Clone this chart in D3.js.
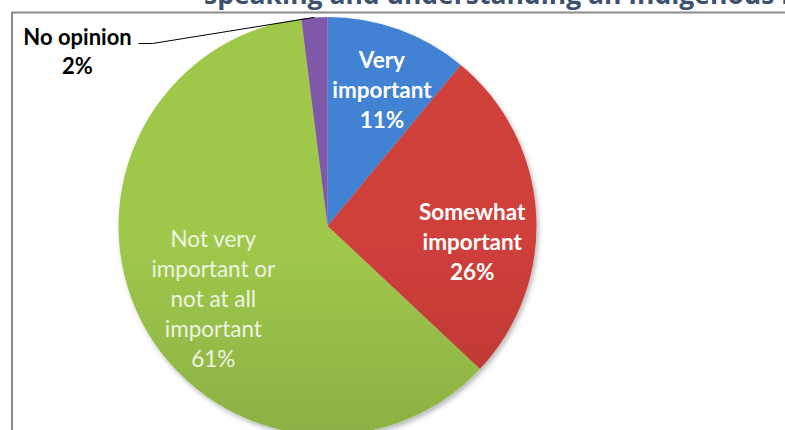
<!DOCTYPE html>
<html>
<head>
<meta charset="utf-8">
<script src="https://cdn.jsdelivr.net/npm/d3@7"></script>
<style>
  html, body { margin: 0; padding: 0; background: #ffffff; }
  svg { display: block; }
</style>
</head>
<body>
<svg id="chart" width="785" height="430"></svg>
<script>
// ---- data ----
const categories = ["Very important", "Somewhat important", "Not very important or not at all important", "No opinion"];
const values = [11, 26, 61, 2];
const labelLines = [
  ["Very", "important", "11%"],
  ["Somewhat", "important", "26%"],
  ["Not very", "important or", "not at all", "important", "61%"],
  ["No opinion", "2%"]
];
const titleText = "speaking and understanding an Indigenous language";

// ---- styles ----
const colorsTop = ["#4282d2", "#cf3f3b", "#9fc84c", "#8059a8"];
const colorsBottom = ["#3768ab", "#9e2c29", "#76953a", "#6f4c96"];
const labelColors = ["#ffffff", "#ffffff", "#eef4e0", "#000000"];
const labelWeights = [700, 700, 400, 700];
const labelNudge = [[7, -4], [-1, 26], [7, 12]];

const svg = d3.select("#chart");
const W = 785, H = 430;
const cx = 327.5, cy = 226, R = 209;

const defs = svg.append("defs");
const f = defs.append("filter").attr("id", "shadow").attr("x", "-10%").attr("y", "-10%").attr("width", "120%").attr("height", "120%");
f.append("feDropShadow").attr("dx", 2).attr("dy", 3).attr("stdDeviation", 2.5).attr("flood-color", "#000").attr("flood-opacity", 0.28);

categories.forEach((c, i) => {
  const g = defs.append("linearGradient").attr("id", "grad" + i)
    .attr("gradientUnits", "userSpaceOnUse")
    .attr("x1", 0).attr("y1", cy - R).attr("x2", 0).attr("y2", cy + R);
  g.append("stop").attr("offset", "0%").attr("stop-color", colorsTop[i]);
  g.append("stop").attr("offset", "100%").attr("stop-color", colorsBottom[i]);
});

// Title (cut off at top like the reference)
svg.append("text")
  .attr("x", 204).attr("y", 4)
  .attr("font-family", "'Open Sans', sans-serif")
  .attr("font-weight", 700)
  .attr("font-size", 26.5)
  .attr("fill", "#3d506e")
  .text(titleText);

// border of chart area
svg.append("path")
  .attr("d", `M12,${H} L12,12.5 L${W},12.5`)
  .attr("fill", "none")
  .attr("stroke", "#8a8a8a")
  .attr("stroke-width", 2);

const pie = d3.pie().sort(null).value(d => d)(values);
const arc = d3.arc().innerRadius(0).outerRadius(R);

const pg = svg.append("g").attr("transform", `translate(${cx},${cy})`);
pg.append("g").attr("filter", "url(#shadow)")
  .selectAll("path").data(pie).join("path")
  .attr("d", arc)
  .attr("fill", (d, i) => `url(#grad${i})`);

// slice labels
const labelR = [140, 146, 136];
pie.slice(0, 3).forEach((d, i) => {
  const a = (d.startAngle + d.endAngle) / 2;
  const x = Math.sin(a) * labelR[i] + labelNudge[i][0];
  const y = -Math.cos(a) * labelR[i] + labelNudge[i][1];
  const lines = labelLines[i];
  const lh = 30;
  const first = y - (lines.length - 1) * lh / 2 + 7.5;
  const t = pg.append("text")
    .attr("text-anchor", "middle")
    .attr("font-family", "Lato, 'Open Sans', sans-serif")
    .attr("font-weight", labelWeights[i])
    .attr("font-size", 22.5)
    .attr("fill", labelColors[i]);
  lines.forEach((ln, j) => {
    t.append("tspan").attr("x", x).attr("y", first + j * lh).text(ln);
  });
});

// No opinion label with leader line
const dNo = pie[3];
const aNo = (dNo.startAngle + dNo.endAngle) / 2;
const ex = Math.sin(aNo) * R, ey = -Math.cos(aNo) * R;
const lx = 77.5 - cx, ly = 45 - cy;
pg.append("polyline")
  .attr("points", `${lx + 61},${ly - 1.5} ${lx + 75},${ly - 1.5} ${ex},${ey}`)
  .attr("fill", "none").attr("stroke", "#000").attr("stroke-width", 1);
const tn = pg.append("text")
  .attr("text-anchor", "middle")
  .attr("font-family", "Lato, 'Open Sans', sans-serif")
  .attr("font-weight", 700)
  .attr("font-size", 22)
  .attr("fill", "#000");
labelLines[3].forEach((ln, j) => {
  tn.append("tspan").attr("x", lx).attr("y", ly + j * 29).text(ln);
});
</script>
</body>
</html>
